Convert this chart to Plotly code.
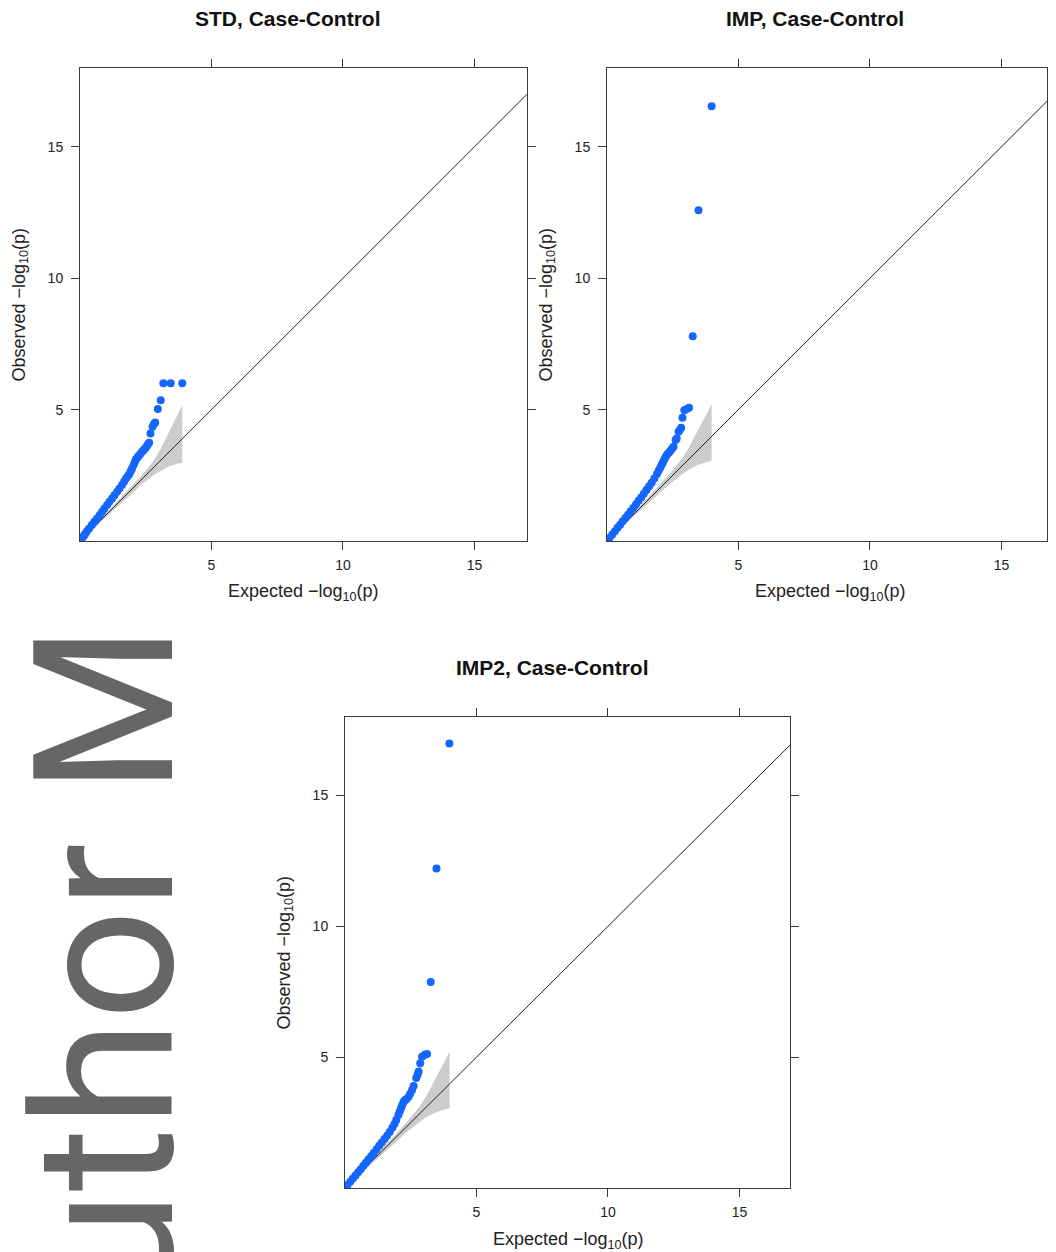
import plotly.graph_objects as go

# ---------------- data ----------------
panel_titles = ["STD, Case-Control", "IMP, Case-Control", "IMP2, Case-Control"]

std_expected = [0.00, 0.05, 0.10, 0.15, 0.20, 0.27, 0.35, 0.45, 0.55, 0.65, 0.75, 0.84, 0.93,
                1.03, 1.12, 1.22, 1.31, 1.41, 1.50, 1.60, 1.68, 1.75, 1.82, 1.88, 1.93, 1.98,
                2.04, 2.09, 2.13, 2.18, 2.23, 2.30, 2.36, 2.42, 2.48, 2.53, 2.58, 2.63, 2.68,
                2.76, 2.81, 2.86, 2.96, 3.07, 3.17, 3.45, 3.89]
std_observed = [0.00, 0.07, 0.14, 0.20, 0.28, 0.38, 0.48, 0.61, 0.73, 0.86, 0.99, 1.11, 1.24,
                1.37, 1.49, 1.62, 1.74, 1.87, 2.00, 2.13, 2.26, 2.38, 2.47, 2.55, 2.66, 2.76,
                2.89, 3.02, 3.11, 3.17, 3.23, 3.32, 3.40, 3.46, 3.52, 3.60, 3.67, 3.74, 4.09,
                4.35, 4.45, 4.51, 5.02, 5.36, 6.00, 6.00, 6.00]

imp_expected = [0.00, 0.10, 0.20, 0.30, 0.40, 0.50, 0.60, 0.70, 0.80, 0.90, 1.00, 1.10, 1.20,
                1.30, 1.40, 1.50, 1.60, 1.70, 1.80, 1.90, 1.97, 2.03, 2.08, 2.13, 2.18, 2.23,
                2.28, 2.34, 2.40, 2.46, 2.53, 2.61, 2.65, 2.72, 2.77, 2.82, 2.87, 2.94, 3.03,
                3.12, 3.26, 3.48, 3.98]
imp_observed = [0.00, 0.12, 0.25, 0.37, 0.50, 0.62, 0.75, 0.88, 1.00, 1.13, 1.26, 1.39, 1.53,
                1.66, 1.80, 1.94, 2.08, 2.22, 2.38, 2.55, 2.68, 2.80, 2.90, 3.00, 3.10, 3.20,
                3.28, 3.35, 3.42, 3.50, 3.59, 3.84, 3.90, 4.16, 4.22, 4.31, 4.69, 4.98, 5.02,
                5.07, 7.79, 12.59, 16.54]

imp2_expected = [0.00, 0.10, 0.20, 0.30, 0.40, 0.50, 0.60, 0.70, 0.80, 0.90, 1.00, 1.10, 1.20,
                 1.30, 1.40, 1.50, 1.60, 1.70, 1.80, 1.88, 1.95, 2.03, 2.08, 2.13, 2.18, 2.23,
                 2.28, 2.33, 2.42, 2.48, 2.55, 2.61, 2.71, 2.76, 2.80, 2.86, 2.93, 3.03, 3.12,
                 3.26, 3.48, 3.97]
imp2_observed = [0.00, 0.12, 0.24, 0.36, 0.48, 0.60, 0.72, 0.85, 0.97, 1.10, 1.22, 1.35, 1.48,
                 1.61, 1.74, 1.87, 2.00, 2.14, 2.30, 2.45, 2.60, 2.79, 2.92, 3.05, 3.18, 3.30,
                 3.35, 3.39, 3.49, 3.60, 3.75, 3.90, 4.20, 4.32, 4.45, 4.77, 5.02, 5.09, 5.12,
                 7.87, 12.21, 16.99]

# confidence band (expected, upper, lower)
std_band_x = [0.0, 0.5, 1.0, 1.5, 2.0, 2.3, 2.6, 2.86, 3.11, 3.36, 3.62, 3.89]
std_band_hi = [0.0, 0.53, 1.06, 1.60, 2.12, 2.45, 2.80, 3.15, 3.59, 4.09, 4.60, 5.17]
std_band_lo = [0.0, 0.47, 0.94, 1.38, 1.82, 2.12, 2.36, 2.55, 2.70, 2.83, 2.92, 2.98]

imp_band_x = [0.0, 0.5, 1.0, 1.5, 2.0, 2.3, 2.6, 2.9, 3.15, 3.4, 3.7, 3.98]
imp_band_hi = [0.0, 0.53, 1.06, 1.60, 2.13, 2.46, 2.82, 3.20, 3.62, 4.10, 4.65, 5.20]
imp_band_lo = [0.0, 0.47, 0.94, 1.38, 1.82, 2.10, 2.35, 2.57, 2.74, 2.87, 2.98, 3.05]

diag_ends = [0, 17]          # y = x reference line
x_range = [0, 17]
y_range = [0, 18]
tick_vals = [5, 10, 15]
tick_text = ["5", "10", "15"]

# ---------------- figure ----------------
OFF = 8  # page body margin in the browser
W, H = 1056, 1252
FONT = "Liberation Sans, Arial, Helvetica, sans-serif"
BLUE = "#1466ff"
BAND = "#cccccc"
AX = "#3a3a3a"
PX_PER_UNIT = (527 - 80) / 17.0

def px_x(p):
    return (p - OFF) / W

def px_y(p):
    return 1 - (p - OFF) / H

# panel boxes in screen pixels: (left, right, top, bottom)
boxes = [(80, 527, 68, 541), (607, 1047, 68, 541), (345, 790, 717, 1188)]
datasets = [
    (std_expected, std_observed, std_band_x, std_band_hi, std_band_lo),
    (imp_expected, imp_observed, imp_band_x, imp_band_hi, imp_band_lo),
    (imp2_expected, imp2_observed, imp_band_x, imp_band_hi, imp_band_lo),
]

fig = go.Figure()
annotations = []

for i, ((l, r, t, b), (ex, ob, bx, bhi, blo)) in enumerate(zip(boxes, datasets)):
    sfx = "" if i == 0 else str(i + 1)
    xa, ya = "x" + sfx, "y" + sfx
    fig.add_trace(go.Scatter(
        x=bx + bx[::-1], y=bhi + blo[::-1], fill="toself", fillcolor=BAND,
        line=dict(width=0), mode="lines", hoverinfo="skip", xaxis=xa, yaxis=ya))
    fig.add_trace(go.Scatter(
        x=diag_ends, y=diag_ends, mode="lines", line=dict(color="#222222", width=1),
        hoverinfo="skip", xaxis=xa, yaxis=ya))
    fig.add_trace(go.Scatter(
        x=ex, y=ob, mode="markers", marker=dict(color=BLUE, size=8, line=dict(width=0)),
        xaxis=xa, yaxis=ya))

    common = dict(showgrid=False, zeroline=False, showline=True, linecolor=AX, linewidth=1,
                  mirror="allticks", ticks="outside", ticklen=8, tickcolor=AX, tickwidth=1,
                  tickvals=tick_vals, ticktext=tick_text,
                  tickfont=dict(family=FONT, size=14, color="#222222"))
    # the right-hand panel is cut by the page edge: keep the same scale, shorter range
    xr = [x_range[0], min(x_range[1], (r - l) / PX_PER_UNIT)]
    fig.update_layout(**{
        "xaxis" + sfx: dict(domain=[px_x(l), px_x(r)], range=xr, anchor=ya,
                            ticklabelstandoff=3, **common),
        "yaxis" + sfx: dict(domain=[px_y(b), px_y(t)], range=y_range, anchor=xa,
                            ticklabelstandoff=5, **common),
    })

    cx = (l + x_range[1] * PX_PER_UNIT + l) / 2
    cy = (t + b) / 2
    annotations.append(dict(text="<b>" + panel_titles[i] + "</b>", xref="paper", yref="paper",
                            x=px_x(cx - 16), y=px_y(t - 50), showarrow=False,
                            xanchor="center", yanchor="middle",
                            font=dict(family=FONT, size=21, color="#111111")))
    annotations.append(dict(text="Expected \u2212log<sub>10</sub>(p)", xref="paper", yref="paper",
                            x=px_x(cx), y=px_y(b + 52), showarrow=False,
                            xanchor="center", yanchor="middle",
                            font=dict(family=FONT, size=18, color="#222222")))
    annotations.append(dict(text="Observed \u2212log<sub>10</sub>(p)", xref="paper", yref="paper",
                            x=px_x(l - 60), y=px_y(cy), showarrow=False, textangle=-90,
                            xanchor="center", yanchor="middle",
                            font=dict(family=FONT, size=18, color="#222222")))

# large grey page watermark text on the left
annotations.append(dict(text="Author M", xref="paper", yref="paper",
                        x=px_x(105), y=px_y(1025), showarrow=False, textangle=-90,
                        xanchor="center", yanchor="middle",
                        font=dict(family="Roboto, sans-serif", size=195, color="#666666")))

fig.update_layout(
    width=W, height=H, margin=dict(l=0, r=0, t=0, b=0),
    paper_bgcolor="white", plot_bgcolor="white", showlegend=False,
    annotations=annotations,
)

fig.write_html("out.html")
